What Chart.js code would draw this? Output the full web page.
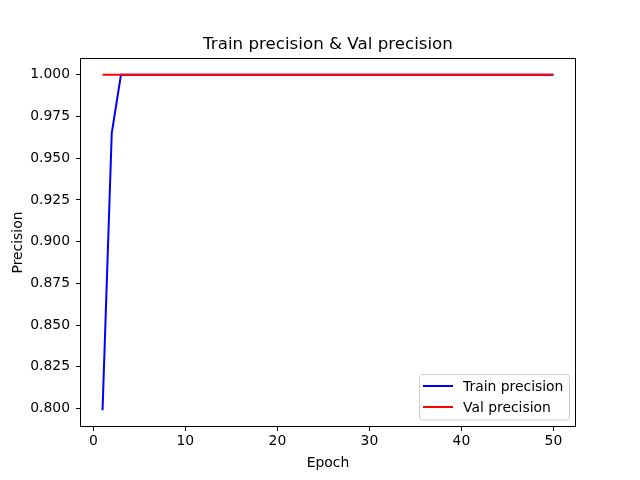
<!DOCTYPE html>
<html>
<head>
<meta charset="utf-8">
<script src="https://cdn.jsdelivr.net/npm/chart.js@4"></script>
<style>
  html, body { margin: 0; padding: 0; background: #fff; }
  canvas { display: block; }
</style>
</head>
<body>
<canvas id="chartCanvas" width="640" height="480"></canvas>
<script>
// epochs 1..50
const epochs = [1,2,3,4,5,6,7,8,9,10,11,12,13,14,15,16,17,18,19,20,21,22,23,24,25,
                26,27,28,29,30,31,32,33,34,35,36,37,38,39,40,41,42,43,44,45,46,47,48,49,50];

const trainPrecision = [0.799,0.965,1,1,1,1,1,1,1,1,1,1,1,1,1,1,1,1,1,1,1,1,1,1,1,
                        1,1,1,1,1,1,1,1,1,1,1,1,1,1,1,1,1,1,1,1,1,1,1,1,1];
const valPrecision = [1,1,1,1,1,1,1,1,1,1,1,1,1,1,1,1,1,1,1,1,1,1,1,1,1,
                      1,1,1,1,1,1,1,1,1,1,1,1,1,1,1,1,1,1,1,1,1,1,1,1,1];

const xTicks = [0, 10, 20, 30, 40, 50];
const yTicks = [0.800, 0.825, 0.850, 0.875, 0.900, 0.925, 0.950, 0.975, 1.000];

const FONT = "'DejaVu Sans', sans-serif";

function toPoints(ys) {
    return epochs.map((e, i) => ({ x: e, y: ys[i] }));
}

// frame, title + legend drawn by hand, matplotlib style
const mplDecor = {
    id: "mplDecor",
    afterDraw(chart) {
        const ctx = chart.ctx;
        const area = chart.chartArea;
        ctx.save();

        ctx.strokeStyle = "#000";
        ctx.lineWidth = 1;
        const l = Math.round(area.left) + 0.5, r = Math.round(area.right) - 0.5;
        const t = Math.round(area.top) + 0.5, b = Math.round(area.bottom) - 0.5;
        ctx.strokeRect(l, t, r - l, b - t);

        ctx.fillStyle = "#000";
        ctx.font = "16.7px " + FONT;
        ctx.textAlign = "center";
        ctx.textBaseline = "alphabetic";
        ctx.fillText("Train precision & Val precision", (area.left + area.right) / 2, 49);

        // legend box
        const bx = 419.5, by = 374.5, bw = 150, bh = 45.5;
        ctx.fillStyle = "rgba(255,255,255,0.8)";
        ctx.strokeStyle = "#cccccc";
        ctx.lineWidth = 1;
        ctx.beginPath();
        ctx.roundRect(bx, by, bw, bh, 3);
        ctx.fill();
        ctx.stroke();

        ctx.font = "13.9px " + FONT;
        ctx.textAlign = "left";
        ctx.textBaseline = "middle";
        chart.data.datasets.forEach((ds, i) => {
            const y = 386 + i * 21;
            ctx.strokeStyle = ds.borderColor;
            ctx.lineWidth = 2;
            ctx.beginPath();
            ctx.moveTo(423, y);
            ctx.lineTo(453, y);
            ctx.stroke();
            ctx.fillStyle = "#000";
            ctx.fillText(ds.label, 463, y + 1);
        });
        ctx.restore();
    }
};

new Chart(document.getElementById("chartCanvas"), {
    type: "line",
    data: {
        datasets: [{
            label: "Train precision",
            data: toPoints(trainPrecision),
            borderColor: "#0000ff",
            borderWidth: 2,
            pointRadius: 0,
            fill: false,
            tension: 0,
            order: 2
        }, {
            label: "Val precision",
            data: toPoints(valPrecision),
            borderColor: "#ff0000",
            borderWidth: 2,
            pointRadius: 0,
            fill: false,
            tension: 0,
            order: 1
        }]
    },
    options: {
        responsive: false,
        animation: false,
        devicePixelRatio: 1,
        layout: { padding: { left: 0, right: 64, top: 58, bottom: 0 } },
        plugins: {
            legend: { display: false },
            title: { display: false },
            tooltip: { enabled: false }
        },
        scales: {
            x: {
                type: "linear",
                min: -1.45,
                max: 52.45,
                afterBuildTicks: (s) => { s.ticks = xTicks.map(v => ({ value: v })); },
                afterFit: (s) => { s.height = 53; },
                ticks: { color: "#000", font: { family: FONT, size: 13.9 }, padding: 2 },
                grid: { drawOnChartArea: false, tickLength: 4, tickColor: "#000", tickWidth: 1 },
                border: { display: false },
                title: { display: true, text: "Epoch", color: "#000",
                         font: { family: FONT, size: 13.9 }, padding: { top: 0, bottom: 8 } }
            },
            y: {
                min: 0.78895,
                max: 1.01005,
                afterBuildTicks: (s) => { s.ticks = yTicks.map(v => ({ value: v })); },
                afterFit: (s) => { s.width = 80; },
                ticks: { color: "#000", font: { family: FONT, size: 13.9 }, padding: 6,
                         callback: (v) => v.toFixed(3) },
                grid: { drawOnChartArea: false, tickLength: 4, tickColor: "#000", tickWidth: 1 },
                border: { display: false },
                title: { display: true, text: "Precision", color: "#000",
                         font: { family: FONT, size: 13.9 }, padding: { top: 10, bottom: 4 } }
            }
        }
    },
    plugins: [mplDecor]
});
</script>
</body>
</html>
